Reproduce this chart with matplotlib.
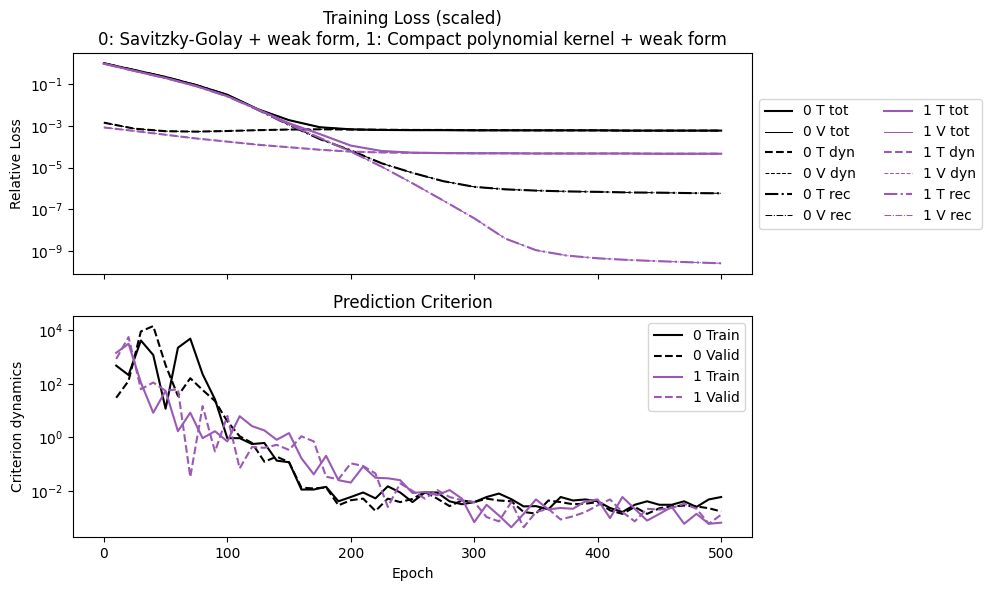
import numpy as np
import matplotlib
matplotlib.use("Agg")
import matplotlib.pyplot as plt

# ---------------- data ----------------
# Top panel: epochs sampled every 25, values given as log10(relative loss)
loss_epochs = [0, 25, 50, 75, 100, 125, 150, 175, 200, 225, 250, 275, 300,
               325, 350, 375, 400, 425, 450, 475, 500]

m0_tot_log = [0.01, -0.32, -0.65, -1.04, -1.50, -2.20, -2.72, -3.06, -3.16, -3.19, -3.20,
              -3.20, -3.21, -3.21, -3.21, -3.21, -3.21, -3.22, -3.22, -3.22, -3.22]
m0_dyn_log = [-2.84, -3.13, -3.25, -3.27, -3.24, -3.20, -3.17, -3.16, -3.17, -3.18, -3.19,
              -3.19, -3.20, -3.20, -3.21, -3.21, -3.21, -3.22, -3.22, -3.22, -3.22]
m0_rec_log = [0.01, -0.32, -0.65, -1.04, -1.52, -2.23, -2.95, -3.63, -4.17, -4.79, -5.25,
              -5.65, -5.92, -6.04, -6.10, -6.14, -6.16, -6.19, -6.20, -6.22, -6.23]

m1_tot_log = [-0.01, -0.36, -0.70, -1.09, -1.57, -2.21, -2.87, -3.39, -3.94, -4.20, -4.28,
              -4.30, -4.31, -4.31, -4.32, -4.32, -4.32, -4.32, -4.33, -4.33, -4.33]
m1_dyn_log = [-3.07, -3.24, -3.42, -3.60, -3.75, -3.90, -4.02, -4.14, -4.23, -4.27, -4.29,
              -4.30, -4.31, -4.31, -4.32, -4.32, -4.32, -4.32, -4.33, -4.33, -4.33]
m1_rec_log = [-0.01, -0.36, -0.70, -1.09, -1.58, -2.23, -2.93, -3.57, -4.23, -4.95, -5.75,
              -6.58, -7.43, -8.40, -8.96, -9.22, -9.35, -9.43, -9.49, -9.54, -9.59]

# Bottom panel: criterion every 10 epochs, log10 values
crit_epochs = list(range(10, 501, 10))
train0_log = [2.68, 2.33, 3.62, 3.08, 1.07, 3.35, 3.69, 2.36, 1.42, -0.03,
              -0.03, -0.25, -0.21, -0.87, -0.93, -1.95, -1.95, -1.85, -2.39, -2.23,
              -2.06, -2.28, -1.83, -2.06, -2.42, -2.06, -2.06, -2.39, -2.50, -2.42,
              -2.23, -2.10, -2.31, -2.58, -2.57, -2.69, -2.23, -2.36, -2.32, -2.39,
              -2.64, -2.79, -2.52, -2.39, -2.52, -2.52, -2.39, -2.60, -2.32, -2.23]
valid0_log = [1.48, 2.11, 3.96, 4.16, 2.70, 1.55, 2.21, 1.77, 1.36, 0.60,
              0.04, -0.21, -0.91, -0.72, -0.93, -1.88, -1.91, -1.87, -2.54, -2.35,
              -2.29, -2.75, -2.29, -2.42, -2.30, -2.04, -2.29, -2.57, -2.36, -2.42,
              -2.29, -2.36, -2.39, -2.79, -2.85, -2.36, -2.42, -2.50, -2.48, -2.42,
              -2.73, -2.86, -2.60, -2.86, -2.65, -2.58, -2.55, -2.58, -2.65, -2.77]
train1_log = [3.16, 3.50, 2.05, 0.92, 1.74, 0.23, 0.92, -0.03, 0.23, -0.15,
              0.79, 0.42, 0.26, -0.09, 0.16, -0.78, -1.38, -0.69, -1.60, -1.69,
              -1.09, -1.51, -1.53, -1.60, -2.08, -2.04, -2.16, -1.97, -2.29, -3.17,
              -2.52, -2.92, -3.36, -2.86, -2.32, -2.69, -2.64, -2.67, -2.39, -2.32,
              -3.02, -2.23, -2.67, -3.11, -2.86, -2.60, -3.23, -2.86, -3.23, -3.19]
valid1_log = [2.93, 3.75, 1.80, 2.05, 1.74, 1.80, -1.48, 1.17, -0.53, 0.80,
              -1.16, -0.36, -0.39, -0.28, -0.47, 0.04, -0.15, -1.47, -1.57, -0.97,
              -1.07, -1.35, -2.60, -1.72, -2.00, -2.29, -1.97, -2.23, -2.35, -2.42,
              -2.98, -3.14, -2.42, -3.36, -2.79, -2.67, -3.07, -2.95, -2.79, -2.54,
              -2.32, -2.79, -3.14, -2.67, -2.70, -2.64, -2.48, -2.67, -3.23, -2.89]

model_colors = ["black", "#9b59b6"]

# ---------------- figure ----------------
fig = plt.figure(figsize=(9.89, 5.90), dpi=100)
ax1 = fig.add_axes([0.0738, 0.5350, 0.6866, 0.3747])
ax2 = fig.add_axes([0.0738, 0.0893, 0.6866, 0.3751], sharex=ax1)

le = np.array(loss_epochs)
series = [
    (m0_tot_log, m0_dyn_log, m0_rec_log),
    (m1_tot_log, m1_dyn_log, m1_rec_log),
]
handles = []
for mi, (tot, dyn, rec) in enumerate(series):
    c = model_colors[mi]
    for name, arr, ls in (("tot", tot, "-"), ("dyn", dyn, "--"), ("rec", rec, "-.")):
        vals = 10.0 ** np.array(arr)
        h1, = ax1.plot(le, vals, color=c, ls=ls, lw=1.5, label=f"{mi} T {name}")
        h2, = ax1.plot(le, vals, color=c, ls=ls, lw=0.75, label=f"{mi} V {name}")
        handles += [h1, h2]

ax1.set_yscale("log")
ax1.set_ylim(10 ** -10.12, 10 ** 0.49)
ax1.set_yticks([1e-1, 1e-3, 1e-5, 1e-7, 1e-9])
ax1.yaxis.set_minor_locator(matplotlib.ticker.NullLocator())
ax1.set_ylabel("Relative Loss")
ax1.set_title("Training Loss (scaled)\n0: Savitzky-Golay + weak form, 1: Compact polynomial kernel + weak form")
ax1.legend(handles=handles, loc="center left", bbox_to_anchor=(1.0, 0.5), ncol=2)
ax1.tick_params(axis="x", labelbottom=False)

ce = np.array(crit_epochs)
ax2.plot(ce, 10.0 ** np.array(train0_log), color=model_colors[0], ls="-", lw=1.5, label="0 Train")
ax2.plot(ce, 10.0 ** np.array(valid0_log), color=model_colors[0], ls="--", lw=1.5, label="0 Valid")
ax2.plot(ce, 10.0 ** np.array(train1_log), color=model_colors[1], ls="-", lw=1.5, label="1 Train")
ax2.plot(ce, 10.0 ** np.array(valid1_log), color=model_colors[1], ls="--", lw=1.5, label="1 Valid")
ax2.set_yscale("log")
ax2.set_ylabel("Criterion dynamics")
ax2.set_xlabel("Epoch")
ax2.set_title("Prediction Criterion")
ax2.legend(loc="upper right")

ax1.set_xticks([0, 100, 200, 300, 400, 500])

fig.savefig("out.png", dpi=100)
